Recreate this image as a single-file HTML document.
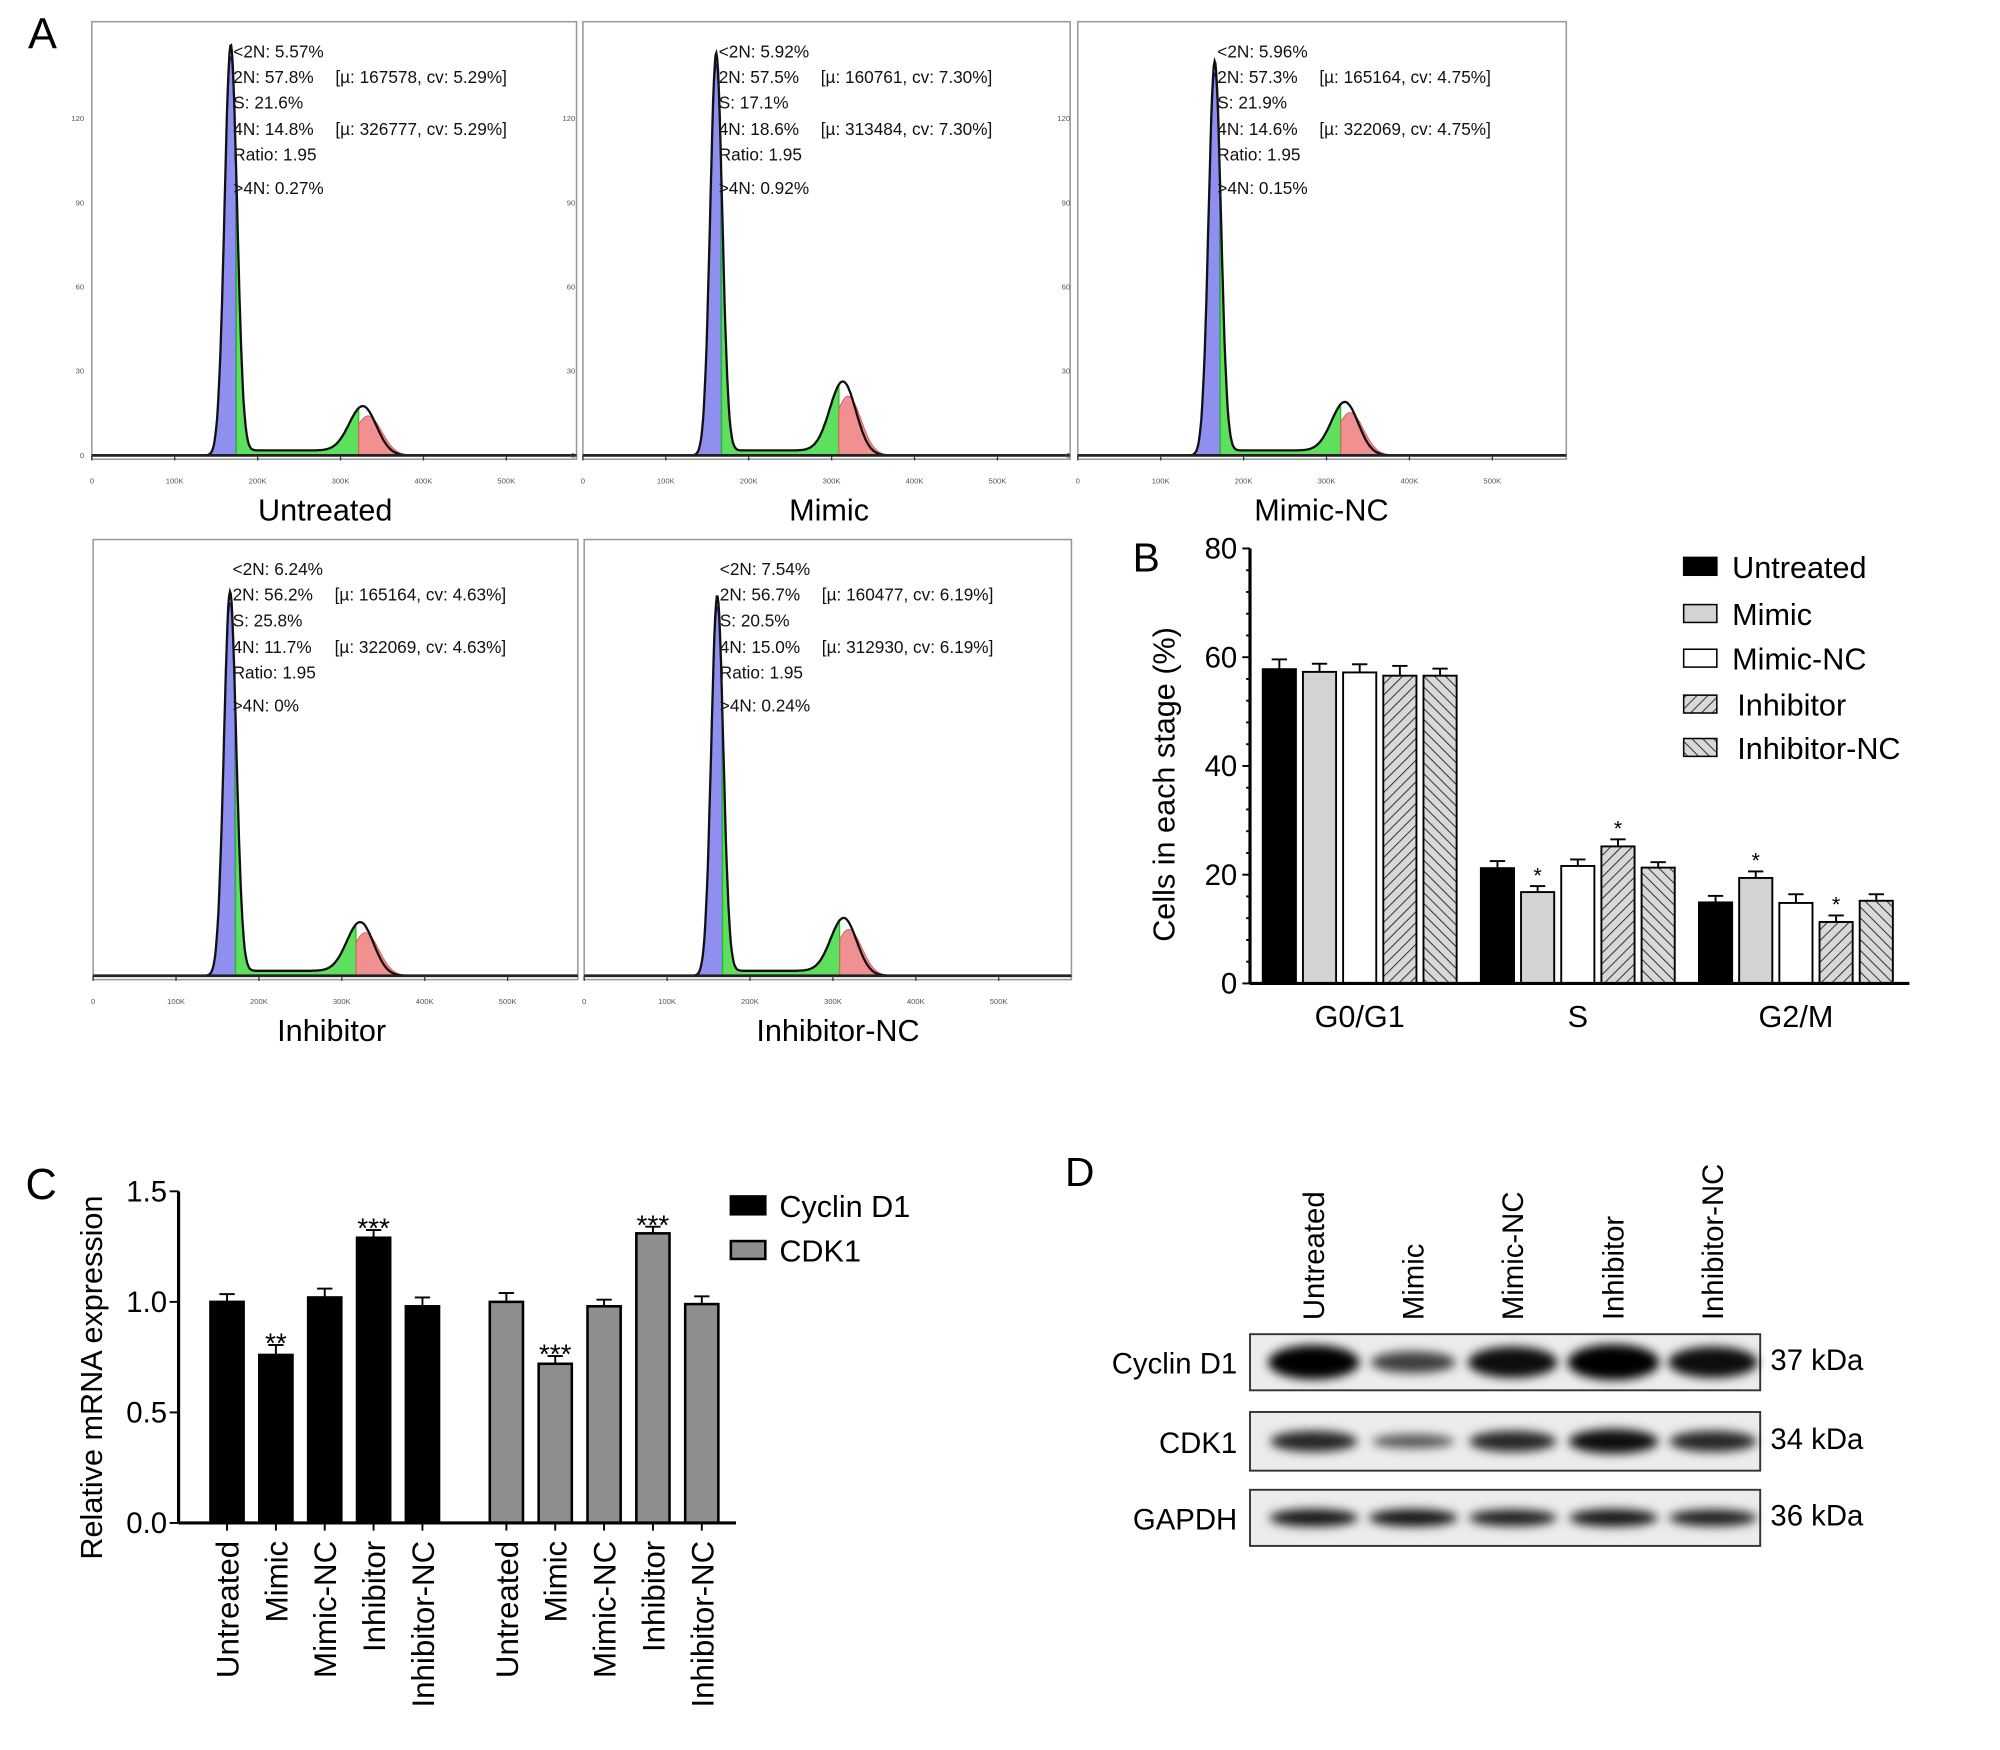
<!DOCTYPE html>
<html><head><meta charset="utf-8"><style>
html,body{margin:0;padding:0;background:#fff;}
svg{display:block;font-family:"Liberation Sans",Arial,sans-serif;}
</style></head><body>
<svg id="fig" width="2000" height="1750" viewBox="0 0 1568 1372" preserveAspectRatio="none" xmlns="http://www.w3.org/2000/svg">
<defs>
<filter id="blur" x="-50%" y="-100%" width="200%" height="300%"><feGaussianBlur stdDeviation="4"/></filter>
<pattern id="hatchA" width="6" height="6" patternUnits="userSpaceOnUse" patternTransform="rotate(45)"><rect width="6" height="6" fill="#d8d8d8"/><line x1="0" y1="0" x2="0" y2="6" stroke="#333" stroke-width="1.6"/></pattern>
<pattern id="hatchB" width="6" height="6" patternUnits="userSpaceOnUse" patternTransform="rotate(-45)"><rect width="6" height="6" fill="#d8d8d8"/><line x1="0" y1="0" x2="0" y2="6" stroke="#333" stroke-width="1.6"/></pattern>
</defs>
<text x="22" y="38" font-size="34">A</text>
<g id="hist"></g>
<text x="888" y="448" font-size="32">B</text>
<g id="chartB"></g>
<text x="20" y="940" font-size="34">C</text>
<g id="chartC"></g>
<text x="835" y="930" font-size="32">D</text>
<g id="blot"></g>
</svg>
<script>
const NS="http://www.w3.org/2000/svg";
function mk(p,t,a,txt){const e=document.createElementNS(NS,t);for(const k in a)e.setAttribute(k,a[k]);if(txt!==undefined)e.textContent=txt;p.appendChild(e);return e;}

// ---------- Panel A: histograms ----------
const histNames=["Untreated","Mimic","Mimic-NC","Inhibitor","Inhibitor-NC"];
const histG1Mu=[167578,160761,165164,165164,160477];
const histG2Mu=[326777,313484,322069,322069,312930];
const histG1Peak=[1.0,0.98,0.96,0.93,0.92];
const histG2Peak=[0.12,0.18,0.13,0.13,0.14];
const histLines=[
 ["<2N: 5.57%","2N: 57.8%","S: 21.6%","4N: 14.8%","Ratio: 1.95",">4N: 0.27%","[µ: 167578, cv: 5.29%]","[µ: 326777, cv: 5.29%]"],
 ["<2N: 5.92%","2N: 57.5%","S: 17.1%","4N: 18.6%","Ratio: 1.95",">4N: 0.92%","[µ: 160761, cv: 7.30%]","[µ: 313484, cv: 7.30%]"],
 ["<2N: 5.96%","2N: 57.3%","S: 21.9%","4N: 14.6%","Ratio: 1.95",">4N: 0.15%","[µ: 165164, cv: 4.75%]","[µ: 322069, cv: 4.75%]"],
 ["<2N: 6.24%","2N: 56.2%","S: 25.8%","4N: 11.7%","Ratio: 1.95",">4N: 0%","[µ: 165164, cv: 4.63%]","[µ: 322069, cv: 4.63%]"],
 ["<2N: 7.54%","2N: 56.7%","S: 20.5%","4N: 15.0%","Ratio: 1.95",">4N: 0.24%","[µ: 160477, cv: 6.19%]","[µ: 312930, cv: 6.19%]"]];
const boxes=[[72,17,452,360],[457,17,839,360],[845,17,1228,360],[73,423,453,768],[458,423,840,768]];
const captions=[[255,408],[650,408],[1036,408],[260,816],[657,816]];
const hg=document.getElementById('hist');
function gauss(x,m,s){return Math.exp(-0.5*((x-m)/s)**2);}
boxes.forEach((b,i)=>{
  const g=mk(hg,'g',{});
  
  
  const [x0,y0,x1,y1]=b;
  const base=y1-3, top=y0+18;
  const px=v=>x0+v/100000*65;
  const py=f=>base-f*(base-top);
  mk(g,'rect',{x:x0,y:y0,width:x1-x0,height:y1-y0,fill:'none',stroke:'#999','stroke-width':1.2});
  const m1=histG1Mu[i],m2=histG2Mu[i],s1=m1*0.045,s2=m2*0.05;
  const f=x=>histG1Peak[i]*gauss(x,m1,s1)+histG2Peak[i]*gauss(x,m2,s2)+0.012*(x>m1&&x<m2?1:0)*(1-gauss(x,m1,s1))*(1-gauss(x,m2,s2));
  const line=[];
  for(let x=100000;x<=400000;x+=1000){
    const y=f(x);line.push(px(x).toFixed(1)+','+py(y).toFixed(1));
  }
  let d='M'+px(m1-4*s1)+','+base;
  for(let x=m1-4*s1;x<=m1+0.9*s1;x+=500)d+=' L'+px(x).toFixed(1)+','+py(histG1Peak[i]*gauss(x,m1,s1)*0.97).toFixed(1);
  d+=' L'+px(m1+0.9*s1)+','+base+'Z';
  mk(g,'path',{d:d,fill:'#8f8ff0',stroke:'#2020c0','stroke-width':1});
  d='M'+px(m1+0.9*s1)+','+base;
  for(let x=m1+0.9*s1;x<=m2-0.3*s2;x+=500)d+=' L'+px(x).toFixed(1)+','+py(f(x)*0.97).toFixed(1);
  d+=' L'+px(m2-0.3*s2)+','+base+'Z';
  mk(g,'path',{d:d,fill:'#5ee05e',stroke:'#20c020','stroke-width':1});
  d='M'+px(m2-0.3*s2)+','+base;
  for(let x=m2-0.3*s2;x<=m2+4*s2;x+=500)d+=' L'+px(x).toFixed(1)+','+py(histG2Peak[i]*0.8*gauss(x,m2+0.4*s2,s2)).toFixed(1);
  d+=' L'+px(m2+4*s2)+','+base+'Z';
  mk(g,'path',{d:d,fill:'#f09090',stroke:'#e06060','stroke-width':0.8});
  mk(g,'polyline',{points:line.join(' '),fill:'none',stroke:'#111','stroke-width':1.8});
  mk(g,'line',{x1:x0,y1:base,x2:x1,y2:base,stroke:'#222','stroke-width':2.2});
  ['0','100K','200K','300K','400K','500K'].forEach((t,k)=>{
    mk(g,'line',{x1:px(k*100000),y1:base,x2:px(k*100000),y2:base+4,stroke:'#333','stroke-width':1});
    mk(g,'text',{x:px(k*100000),y:base+22,'font-size':6,'text-anchor':'middle',fill:'#555'},t);
  });
  if(i<3)['0','30','60','90','120'].forEach((t,k)=>{
    mk(g,'text',{x:x0-6,y:py(k*0.205)+2,'font-size':6,'text-anchor':'end',fill:'#555'},t);
  });
  const tx=px(m1)+2, ty=y0+28, dy=[0,20,40,61,81,107];
  for(let k=0;k<6;k++)mk(g,'text',{x:tx,y:ty+dy[k],'font-size':13.5,fill:'#111'},histLines[i][k]);
  mk(g,'text',{x:tx+80,y:ty+20,'font-size':13.5,fill:'#111'},histLines[i][6]);
  mk(g,'text',{x:tx+80,y:ty+61,'font-size':13.5,fill:'#111'},histLines[i][7]);
  const c=mk(g,'text',{x:captions[i][0],y:captions[i][1],'font-size':24,'text-anchor':'middle'},histNames[i]);
  
  
});

// ---------- Panel B ----------
const bCategories=["G0/G1","S","G2/M"];
const bSeries=["Untreated","Mimic","Mimic-NC","Inhibitor","Inhibitor-NC"];
const bUntreated=[57.8,21.2,14.9];
const bMimic=[57.3,16.8,19.4];
const bMimicNC=[57.2,21.6,14.8];
const bInhibitor=[56.6,25.2,11.3];
const bInhibitorNC=[56.6,21.3,15.2];
const bErrUntreated=[1.8,1.3,1.2];
const bErrMimic=[1.5,1.1,1.2];
const bErrMimicNC=[1.5,1.2,1.6];
const bErrInhibitor=[1.8,1.3,1.2];
const bErrInhibitorNC=[1.3,1.0,1.2];
const bStarMimic=[false,true,true];
const bStarInhibitor=[false,true,true];
const bTicks=[0,20,40,60,80];
(function(){
  const g=document.getElementById('chartB');
  const X0=980,X1=1497,Y0=771,Y80=430;
  const y=v=>Y0-(v/80)*(Y0-Y80);
  const vals=[bUntreated,bMimic,bMimicNC,bInhibitor,bInhibitorNC];
  const errs=[bErrUntreated,bErrMimic,bErrMimicNC,bErrInhibitor,bErrInhibitorNC];
  const stars=[null,bStarMimic,null,bStarInhibitor,null];
  const fills=['#000','#d3d3d3','#fff','url(#hatchA)','url(#hatchB)'];
  const groupStart=k=>990+k*171, pitch=31.5, bw=26;
  bCategories.forEach((c,k)=>{
    for(let s=0;s<5;s++){
      const v=vals[s][k],e=errs[s][k];
      const bx=groupStart(k)+s*pitch;
      const cx=bx+bw/2;
      mk(g,'line',{x1:cx,y1:y(v),x2:cx,y2:y(v+e),stroke:'#000','stroke-width':1.5});
      mk(g,'line',{x1:cx-6,y1:y(v+e),x2:cx+6,y2:y(v+e),stroke:'#000','stroke-width':1.5});
      const r=mk(g,'rect',{x:bx,y:y(v),width:bw,height:Y0-y(v),fill:fills[s],stroke:'#000','stroke-width':1.5});
      
      
      if(stars[s]&&stars[s][k])mk(g,'text',{x:cx,y:y(v+e)-3,'font-size':17,'text-anchor':'middle'},'*');
    }
    mk(g,'text',{x:groupStart(k)+2*pitch+bw/2,y:805,'font-size':24,'text-anchor':'middle'},c);
  });
  mk(g,'line',{x1:X0,y1:Y0,x2:X1,y2:Y0,stroke:'#000','stroke-width':2.5});
  mk(g,'line',{x1:X0,y1:Y0,x2:X0,y2:Y80,stroke:'#000','stroke-width':2.5});
  for(let v=0;v<=80;v+=4){mk(g,'line',{x1:X0-(v%20?3:6),y1:y(v),x2:X0,y2:y(v),stroke:'#000','stroke-width':1.5});}
  bTicks.forEach(t=>mk(g,'text',{x:X0-10,y:y(t)+8,'font-size':23,'text-anchor':'end'},t));
  mk(g,'text',{x:921,y:615,'font-size':24,'text-anchor':'middle',transform:'rotate(-90 921 615)'},'Cells in each stage (%)');
  const ly=[437,474,509,545,579];
  bSeries.forEach((s,i)=>{
    const lg=mk(g,'g',{});
    
    
    mk(lg,'rect',{x:1320,y:ly[i],width:26,height:14,fill:fills[i],stroke:'#000','stroke-width':1.2});
    mk(lg,'text',{x:i>=3?1362:1358,y:ly[i]+16,'font-size':24},s);
  });
})();

// ---------- Panel C ----------
const cLabels=["Untreated","Mimic","Mimic-NC","Inhibitor","Inhibitor-NC"];
const cCyclinD1=[1.0,0.76,1.02,1.29,0.98];
const cCDK1=[1.0,0.72,0.98,1.31,0.99];
const cErrCyclinD1=[0.035,0.045,0.04,0.035,0.04];
const cErrCDK1=[0.04,0.035,0.03,0.03,0.035];
const cStarCyclinD1=["","**","","***",""];
const cStarCDK1=["","***","","***",""];
const cTicks=["0.0","0.5","1.0","1.5"];
(function(){
  const g=document.getElementById('chartC');
  const X0=140,X1=577,Y0=1194,Ytop=934;
  const y=v=>Y0-(v/1.5)*(Y0-Ytop);
  const bw=26;
  const cx=(grp,i)=>178+grp*219+i*38.3;
  [[cCyclinD1,cErrCyclinD1,cStarCyclinD1,'#000','cyclin-d1'],[cCDK1,cErrCDK1,cStarCDK1,'#8e8e8e','cdk1']].forEach((sr,grp)=>{
    sr[0].forEach((v,i)=>{
      const x=cx(grp,i),e=sr[1][i];
      mk(g,'line',{x1:x,y1:y(v),x2:x,y2:y(v+e),stroke:'#000','stroke-width':1.5});
      mk(g,'line',{x1:x-6,y1:y(v+e),x2:x+6,y2:y(v+e),stroke:'#000','stroke-width':1.5});
      const r=mk(g,'rect',{x:x-bw/2,y:y(v),width:bw,height:Y0-y(v),fill:sr[3],stroke:'#000','stroke-width':2});
      
      
      if(sr[2][i])mk(g,'text',{x:x,y:y(v+e)+6,'font-size':22,'text-anchor':'middle'},sr[2][i]);
      mk(g,'line',{x1:x,y1:Y0,x2:x,y2:Y0+6,stroke:'#000','stroke-width':1.5});
      mk(g,'text',{x:x+9,y:Y0+14,'font-size':24.5,'text-anchor':'end',transform:'rotate(-90 '+(x+9)+' '+(Y0+14)+')'},cLabels[i]);
    });
  });
  mk(g,'line',{x1:X0,y1:Y0,x2:X1,y2:Y0,stroke:'#000','stroke-width':2.5});
  mk(g,'line',{x1:X0,y1:Y0,x2:X0,y2:Ytop,stroke:'#000','stroke-width':2.5});
  cTicks.forEach(t=>{mk(g,'line',{x1:X0-7,y1:y(+t),x2:X0,y2:y(+t),stroke:'#000','stroke-width':1.5});
    mk(g,'text',{x:X0-9,y:y(+t)+8,'font-size':23,'text-anchor':'end'},t);});
  mk(g,'text',{x:80,y:1080,'font-size':24,'text-anchor':'middle',transform:'rotate(-90 80 1080)'},'Relative mRNA expression');
  [['Cyclin D1','#000',938],['CDK1','#8e8e8e',973]].forEach(l=>{
    const lg=mk(g,'g',{});
    
    
    mk(lg,'rect',{x:573,y:l[2],width:27,height:14,fill:l[1],stroke:'#000','stroke-width':2});
    mk(lg,'text',{x:611,y:l[2]+16,'font-size':24},l[0]);
  });
})();

// ---------- Panel D ----------
const dLanes=["Untreated","Mimic","Mimic-NC","Inhibitor","Inhibitor-NC"];
const dCyclinD1=[0.95,0.55,0.85,1.0,0.85];
const dCDK1=[0.7,0.4,0.7,0.85,0.7];
const dGAPDH=[0.8,0.8,0.75,0.8,0.75];
(function(){
  const g=document.getElementById('blot');
  const lx=[1030,1108,1186,1265,1343];
  dLanes.forEach((l,i)=>mk(g,'text',{x:lx[i]+8,y:1035,'font-size':23,'text-anchor':'start',transform:'rotate(-90 '+(lx[i]+8)+' 1035)'},l));
  const rows=[["Cyclin D1",dCyclinD1,1046,44,"37 kDa",12],["CDK1",dCDK1,1107,46,"34 kDa",9],["GAPDH",dGAPDH,1168,44,"36 kDa",6]];
  rows.forEach(r=>{
    const rg=mk(g,'g',{});
    
    
    mk(rg,'rect',{x:980,y:r[2],width:400,height:r[3],fill:'#ececec',stroke:'#333','stroke-width':1.5});
    const cy=r[2]+r[3]/2;
    r[1].forEach((v,i)=>{
      mk(rg,'ellipse',{cx:lx[i],cy:cy,rx:30+v*6,ry:r[5]*v+2,fill:'#000','fill-opacity':Math.min(1,0.35+v*0.7),filter:'url(#blur)'});
    });
    mk(rg,'text',{x:970,y:cy+9,'font-size':23,'text-anchor':'end'},r[0]);
    mk(rg,'text',{x:1388,y:cy+6,'font-size':23},r[4]);
  });
})();
</script>
</body></html>
